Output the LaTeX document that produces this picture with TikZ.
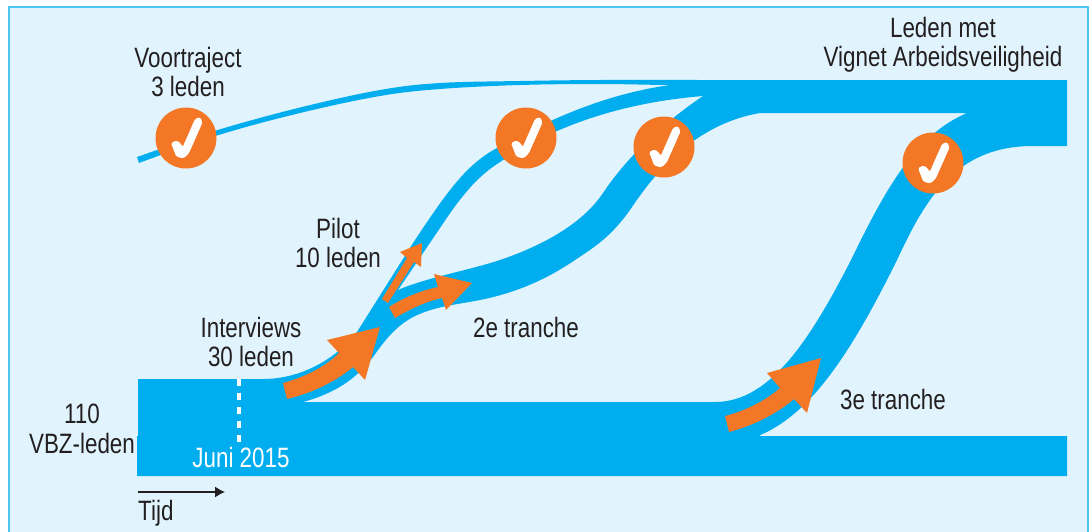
\documentclass[tikz,border=0pt]{standalone}
\usepackage{fontspec}
\usetikzlibrary{arrows.meta}
\setmainfont[FakeStretch=0.8]{Liberation Sans}
\definecolor{vbzblue}{HTML}{00AEEF}
\definecolor{vbzpale}{HTML}{E1F4FE}
\definecolor{vbzedge}{HTML}{4DC4F2}
\definecolor{vbzorange}{HTML}{F47726}
\definecolor{vbztext}{HTML}{231F20}
\tikzset{>=latex}
\tikzset{
  band/.style={fill=vbzblue},
  flow/.style={fill=vbzorange},
  label/.style={text=vbztext,align=center,inner sep=0pt,font=\fontsize{28}{29.5}\selectfont},
  stamp/.style={circle,fill=vbzorange,minimum size=61pt,inner sep=0pt},
  tick/.pic={\fill[white,rounded corners=1.6pt] (-15,5) -- (-9.5,2.5) -- (-6,4.5) -- (-3.3,9) -- (9,-19) -- (14,-21) -- (16.5,-15.5) -- (2.8,15.5) -- (-2.7,20.5) -- (-9.8,18.5) -- cycle;}
}

\begin{document}
\begin{tikzpicture}[x=1pt,y=-1pt]
  \useasboundingbox (0,0) rectangle (1092,531);
  % panel
  \draw[draw=vbzedge,fill=vbzpale,line width=1.5pt] (9,7) rectangle (1088,545);
  % base of all members
  \fill[band] (138,379) -- (263,379) -- (263,402) -- (760,402) -- (760,436) -- (1067,436) -- (1067,476) -- (137,476) -- (137,436) -- (138,436) -- cycle;
  % voortraject
  \fill[band] plot[smooth,tension=0.6] coordinates {(137,157) (216,130.5) (300,107.5) (380,90) (440,83) (520,81) (600,80) (700,80)}
    -- plot[smooth,tension=0.6] coordinates {(700,84) (670,85) (600,84) (520,85) (440,89) (380,96) (300,113) (217,135.5) (139,163)} -- cycle;
  % pilot
  \fill[band] (263,379) .. controls (300,379) and (335,360) .. (357,332) -- (413,243)
    .. controls (445,195) and (465,165) .. (497,148) .. controls (545,122) and (600,95) .. (670,85)
    -- (710,85) -- (703,96) .. controls (630,102) and (560,122) .. (500,162)
    .. controls (480,175) and (465,190) .. (440,228) -- (398,290) -- (413,317)
    .. controls (395,327) and (385,340) .. (373,357) .. controls (355,380) and (335,393) .. (303,402)
    -- (303,410) -- (250,410) -- (250,379) -- cycle;
  % 2e tranche
  \fill[band] (398,290) .. controls (425,278) and (470,270) .. (500,260) .. controls (550,243) and (585,220) .. (603,193)
    .. controls (625,160) and (660,125) .. (703,96) -- (720,90) -- (775,100) -- (760,113)
    .. controls (690,125) and (650,180) .. (630,210) .. controls (612,235) and (598,245) .. (575,260)
    .. controls (550,277) and (520,292) .. (480,300) .. controls (455,305) and (435,306) .. (413,317) -- (385,315) -- cycle;
  % top band and 3e tranche
  \fill[band] (660,80) -- (1067,80) -- (1067,146) -- (1033,146)
    .. controls (955,146) and (925,200) .. (897,260) .. controls (850,355) and (810,415) .. (758,436)
    -- (715,402) .. controls (770,402) and (810,340) .. (851,260) .. controls (885,190) and (915,135) .. (967,113)
    -- (760,113) -- (703,96) -- (670,85) -- cycle;
  % arrows
  \fill[flow] (283,383) .. controls (305,377) and (325,367) .. (339,353) -- (327,340) -- (380,327) -- (365,380) -- (353,367) .. controls (335,382) and (312,393) .. (287,399) -- cycle;
  \fill[flow] (382,299) -- (407,258) -- (400,252) -- (422,243) -- (421,267) -- (414,262) -- (388,303) -- cycle;
  \fill[flow] (389,307) .. controls (405,297) and (420,291) .. (438,287) -- (434,274) -- (472,283) -- (446,310) -- (442,298) .. controls (425,302) and (412,308) .. (395,318) -- cycle;
  \fill[flow] (725,416) .. controls (745,411) and (765,401) .. (780,388) -- (767,373) -- (821,358) -- (807,413) -- (794,399) .. controls (775,415) and (752,426) .. (729,432) -- cycle;
  % vinkjes
  \foreach \N/\X/\Y in {voor/186/138,pilot/526/138,tweede/664/147,derde/933/163} {%
    \node[stamp] (stamp\N) at (\X,\Y) {};
    \pic at (stamp\N) {tick};
  };
  % juni 2015
  \coordinate (juniTop) at (239,379);
  \coordinate (juniEnd) at (239,442);
  \draw[white,line width=3.3pt,dash pattern=on 7pt off 7pt] (juniTop) -- (juniEnd);
  \node[label,text=white,anchor=base] (juni) at (241,467) {Juni 2015};
  % tijd
  \coordinate (tijdStart) at (138,492);
  \coordinate (tijdEnd) at (225,492);
  \draw[-{Latex[length=10pt,width=11pt]},vbztext,line width=1.3pt] (tijdStart) -- (tijdEnd);
  \node[label,anchor=base west] (tijd) at (138,520) {Tijd};
  % labels
  \node[label] (voortraject) at (188,72) {Voortraject\\3 leden};
  \node[label] (vignet) at (943,45) {Leden met\\Vignet Arbeidsveiligheid};
  \node[label] (interviews) at (251,342) {Interviews\\30 leden};
  \node[label] (pilot) at (338,243) {Pilot\\10 leden};
  \node[label,anchor=base] (tweede) at (526,337) {2e tranche};
  \node[label,anchor=base] (derde) at (893,409) {3e tranche};
  \node[label] (vbz) at (82,429) {110\\VBZ-leden};
\end{tikzpicture}
\end{document}
